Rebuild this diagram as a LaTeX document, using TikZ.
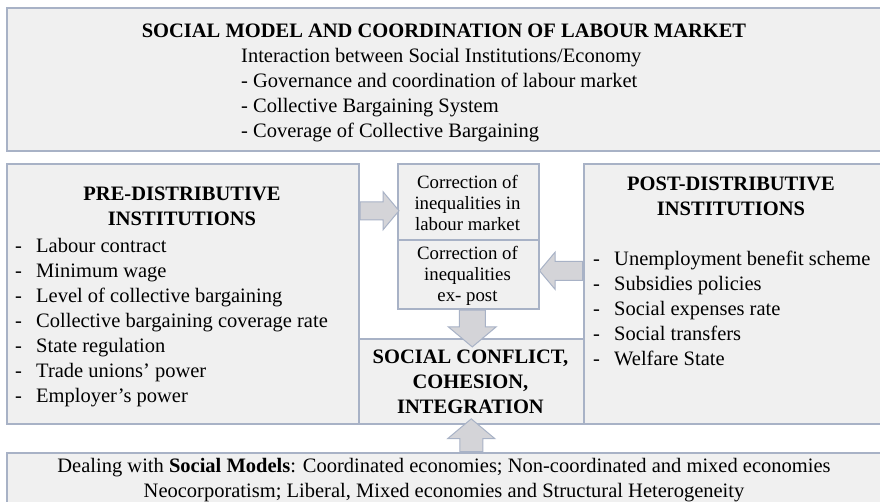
\documentclass[tikz,border=0pt]{standalone}
\usepackage{fontspec}
\setmainfont{Liberation Serif}
\usetikzlibrary{shapes.arrows,positioning}

\definecolor{boxfill}{RGB}{240,240,240}
\definecolor{boxline}{RGB}{168,178,198}
\definecolor{arrfill}{RGB}{212,212,216}

\newcommand{\bigtext}{\fontsize{20.5}{25}\selectfont}
\newcommand{\midtext}{\fontsize{18.8}{21}\selectfont}
\newcommand{\dashitem}[1]{\makebox[21pt][l]{-}#1}

\tikzset{
  panel/.style={draw=boxline, line width=1.5pt, fill=boxfill, inner sep=0pt, anchor=north west},
  txt/.style={inner sep=0pt, font=\bigtext},
  blockarrow/.style={single arrow, draw=boxline, fill=arrfill, line width=1pt,
    single arrow head indent=0pt, single arrow tip angle=100, anchor=tail},
}

\begin{document}
\begin{tikzpicture}[x=1pt,y=-1pt]
  \useasboundingbox (0,0) rectangle (880,501);
  \clip (0,0) rectangle (880,501);
  \fill[white] (0,0) rectangle (880,501);

  \node[panel, minimum width=878pt, minimum height=143pt] (top) at (6,7) {};
  \node[panel, minimum width=352pt, minimum height=260pt] (pre) at (6,163) {};
  \node[panel, minimum width=301pt, minimum height=260pt] (post) at (583,163) {};
  \node[panel, minimum width=225pt, minimum height=85pt] (confl) at (358,338) {};
  \node[panel, minimum width=141pt, minimum height=76pt] (corrA) at (397,163) {};
  \node[panel, minimum width=141pt, minimum height=69pt] (corrB) at (397,239) {};
  \node[panel, minimum width=878pt, minimum height=60pt] (deal) at (6,452) {};

  \node[blockarrow, inner sep=8.5pt, single arrow head extend=10pt, minimum height=39pt,
    yshift=-9pt] (arrL) at (pre.east |- corrA.west) {};
  \node[blockarrow, shape border rotate=180, inner sep=9pt, single arrow head extend=9pt,
    minimum height=43pt, yshift=3.5pt] (arrR) at (post.west |- corrB.east) {};
  \node[blockarrow, shape border rotate=270, inner sep=12.5pt, single arrow head extend=11pt,
    minimum height=30pt, xshift=4pt] (arrD) at (corrB.south) {};
  \node[blockarrow, shape border rotate=90, inner sep=11pt, single arrow head extend=12pt,
    minimum height=30pt] (arrU) at (confl.south |- deal.north) {};

  \node[txt, font=\bigtext\bfseries, anchor=base] (title) at (444,37)
    {SOCIAL MODEL AND COORDINATION OF LABOUR MARKET};
  \node[txt, align=left, anchor=north west] (toplist) at (241,48)
    {Interaction between Social Institutions/Economy\\
     - Governance and coordination of labour market\\
     - Collective Bargaining System\\
     - Coverage of Collective Bargaining};

  \node[txt, font=\bigtext\bfseries, align=center, anchor=north] (preHead) at (182,187)
    {PRE-DISTRIBUTIVE\\INSTITUTIONS};
  \node[txt, align=left, anchor=north west] (preList) at (15,238)
    {\dashitem{Labour contract}\\
     \dashitem{Minimum wage}\\
     \dashitem{Level of collective bargaining}\\
     \dashitem{Collective bargaining coverage rate}\\
     \dashitem{State regulation}\\
     \dashitem{Trade unions' power}\\
     \dashitem{Employer's power}};

  \node[txt, font=\bigtext\bfseries, align=center, anchor=north] (postHead) at (731,177)
    {POST-DISTRIBUTIVE\\INSTITUTIONS};
  \node[txt, align=left, anchor=north west] (postList) at (593,251)
    {\dashitem{Unemployment benefit scheme}\\
     \dashitem{Subsidies policies}\\
     \dashitem{Social expenses rate}\\
     \dashitem{Social transfers}\\
     \dashitem{Welfare State}};

  \node[txt, font=\midtext, align=center, anchor=north] (corrAText) at (467.5,175)
    {Correction of\\inequalities in\\labour market};
  \node[txt, font=\midtext, align=center, anchor=north] (corrBText) at (467.5,246)
    {Correction of\\inequalities\\ex- post};

  \node[txt, font=\bigtext\bfseries, align=center, anchor=north] (conflText) at (470.5,350)
    {SOCIAL CONFLICT,\\COHESION,\\INTEGRATION};

  \node[txt, align=center, anchor=north] (dealText) at (444,458)
    {Dealing with \textbf{Social Models}: Coordinated economies; Non-coordinated and mixed economies\\
     Neocorporatism; Liberal, Mixed economies and Structural Heterogeneity};
\end{tikzpicture}
\end{document}
